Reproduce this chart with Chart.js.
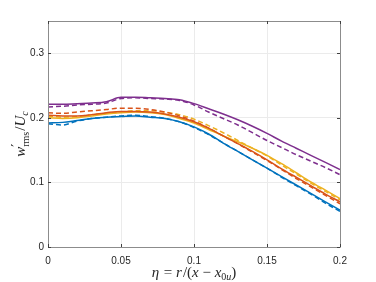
<!DOCTYPE html>
<html>
<head>
<meta charset="utf-8">
<script src="https://cdn.jsdelivr.net/npm/chart.js@4.4.0/dist/chart.umd.min.js"></script>
<style>
  html, body { margin: 0; padding: 0; background: #fff; }
  #wrap { width: 376px; height: 282px; }
</style>
</head>
<body>
<div id="wrap"><canvas id="myChart"></canvas></div>
<script>
// eta = r/(x - x0u)
const eta = [0, 0.01, 0.02, 0.03, 0.04, 0.05, 0.06, 0.07, 0.08, 0.09, 0.10,
  0.11, 0.12, 0.13, 0.14, 0.15, 0.16, 0.17, 0.18, 0.19, 0.20];

const blueSolid = [0.192, 0.193, 0.196, 0.199, 0.201, 0.202, 0.203, 0.201, 0.199, 0.194, 0.186,
  0.175, 0.161, 0.148, 0.135, 0.122, 0.109, 0.096, 0.083, 0.070, 0.057];
const blueDashed = [0.191, 0.189, 0.195, 0.199, 0.201, 0.203, 0.204, 0.202, 0.199, 0.194, 0.185,
  0.174, 0.161, 0.148, 0.135, 0.122, 0.108, 0.095, 0.082, 0.068, 0.055];
const orangeSolid = [0.204, 0.203, 0.203, 0.205, 0.208, 0.210, 0.210, 0.209, 0.206, 0.201, 0.194,
  0.184, 0.172, 0.160, 0.148, 0.135, 0.121, 0.108, 0.095, 0.082, 0.070];
const orangeDashed = [0.208, 0.207, 0.209, 0.211, 0.213, 0.215, 0.215, 0.213, 0.209, 0.203, 0.195,
  0.184, 0.172, 0.160, 0.147, 0.134, 0.120, 0.106, 0.093, 0.080, 0.067];
const yellowSolid = [0.200, 0.199, 0.200, 0.203, 0.206, 0.208, 0.209, 0.208, 0.205, 0.199, 0.192,
  0.182, 0.172, 0.163, 0.153, 0.142, 0.129, 0.115, 0.101, 0.088, 0.075];
const yellowDashed = [0.203, 0.201, 0.202, 0.205, 0.207, 0.209, 0.211, 0.211, 0.209, 0.205, 0.198,
  0.188, 0.177, 0.165, 0.153, 0.141, 0.127, 0.113, 0.099, 0.086, 0.073];
const purpleSolid = [0.221, 0.221, 0.222, 0.223, 0.225, 0.232, 0.232, 0.231, 0.230, 0.228, 0.222,
  0.214, 0.206, 0.197, 0.187, 0.176, 0.164, 0.153, 0.142, 0.131, 0.120];
const purpleDashed = [0.217, 0.218, 0.220, 0.221, 0.223, 0.230, 0.231, 0.230, 0.229, 0.227, 0.220,
  0.209, 0.199, 0.189, 0.177, 0.165, 0.154, 0.143, 0.133, 0.123, 0.112];

const xTicks = [0, 0.05, 0.1, 0.15, 0.2];
const yTicks = [0, 0.1, 0.2, 0.3];

const BLUE = '#0072BD', ORANGE = '#D95319', YELLOW = '#EDB120', PURPLE = '#7E2F8E';

function series(vals, color, dashed) {
  return {
    data: eta.map((e, i) => ({ x: e, y: vals[i] })),
    borderColor: color,
    backgroundColor: color,
    borderWidth: 1.5,
    borderDash: dashed ? [5, 3] : [],
    pointRadius: 0,
    cubicInterpolationMode: 'monotone',
    fill: false
  };
}

// MATLAB style box, inward ticks and LaTeX-ish axis labels
const boxPlugin = {
  id: 'box',
  afterDraw(chart) {
    const { ctx, chartArea: a, scales } = chart;
    ctx.save();
    ctx.strokeStyle = '#8c8c8c';
    ctx.lineWidth = 1;
    ctx.beginPath();
    ctx.rect(Math.round(a.left) + 0.5, Math.round(a.top) + 0.5,
      Math.round(a.right - a.left), Math.round(a.bottom - a.top));
    ctx.stroke();
    ctx.strokeStyle = '#404040';
    ctx.beginPath();
    xTicks.forEach(v => {
      const px = Math.round(scales.x.getPixelForValue(v)) + 0.5;
      ctx.moveTo(px, a.bottom); ctx.lineTo(px, a.bottom - 3);
      ctx.moveTo(px, a.top); ctx.lineTo(px, a.top + 3);
    });
    yTicks.forEach(v => {
      const py = Math.round(scales.y.getPixelForValue(v)) + 0.5;
      ctx.moveTo(a.left, py); ctx.lineTo(a.left + 3, py);
      ctx.moveTo(a.right, py); ctx.lineTo(a.right - 3, py);
    });
    ctx.stroke();

    ctx.fillStyle = '#262626';
    ctx.textBaseline = 'alphabetic';
    const it = 'italic 15px "Liberation Serif"';
    const up = '15px "Liberation Serif"';
    const itS = 'italic 10px "Liberation Serif"';
    const upS = '10px "Liberation Serif"';

    function drawRuns(runs, cx, cy) {
      let w = 0;
      runs.forEach(r => { ctx.font = r.f; w += ctx.measureText(r.t).width + (r.gap || 0); });
      let x = cx - w / 2;
      runs.forEach(r => {
        ctx.font = r.f;
        ctx.fillText(r.t, x, cy + (r.dy || 0));
        x += ctx.measureText(r.t).width + (r.gap || 0);
      });
    }

    // x label
    const cx = (a.left + a.right) / 2;
    drawRuns([
      { t: 'η', f: it, gap: 1 },
      { t: ' = ', f: up },
      { t: 'r', f: it, gap: 1 },
      { t: '/(', f: up },
      { t: 'x', f: it },
      { t: ' − ', f: up },
      { t: 'x', f: it },
      { t: '0', f: upS, dy: 3 },
      { t: 'u', f: itS, dy: 3 },
      { t: ')', f: up }
    ], cx, 277);

    // y label
    ctx.save();
    ctx.translate(25, (a.top + a.bottom) / 2);
    ctx.rotate(-Math.PI / 2);
    drawRuns([
      { t: 'w', f: it },
      { t: '′', f: '13px "DejaVu Serif"', dy: -4, gap: -3 },
      { t: 'rms', f: upS, dy: 4, gap: 1 },
      { t: '/', f: up },
      { t: 'U', f: it },
      { t: 'c', f: itS, dy: 3 }
    ], 0, 0);
    ctx.restore();
    ctx.restore();
  }
};

const ctx = document.getElementById('myChart').getContext('2d');
new Chart(ctx, {
  type: 'line',
  data: {
    datasets: [
      series(blueSolid, BLUE, false),
      series(orangeSolid, ORANGE, false),
      series(yellowSolid, YELLOW, false),
      series(purpleSolid, PURPLE, false),
      series(blueDashed, BLUE, true),
      series(orangeDashed, ORANGE, true),
      series(yellowDashed, YELLOW, true),
      series(purpleDashed, PURPLE, true)
    ]
  },
  options: {
    responsive: true,
    maintainAspectRatio: false,
    animation: false,
    layout: { padding: { top: 21, right: 36, left: 0, bottom: 0 } },
    plugins: { legend: { display: false }, tooltip: { enabled: false } },
    scales: {
      x: {
        type: 'linear',
        min: 0,
        max: 0.2,
        afterBuildTicks: s => { s.ticks = xTicks.map(v => ({ value: v })); },
        afterFit: s => { s.height = 35; },
        grid: { color: '#ebebeb', tickLength: 0, drawTicks: false },
        border: { display: false },
        ticks: {
          color: '#262626',
          padding: 8,
          maxRotation: 0,
          font: { family: '"Liberation Sans"', size: 10 },
          callback: v => String(Number(v.toFixed(2)))
        }
      },
      y: {
        type: 'linear',
        min: 0,
        max: 0.35,
        afterBuildTicks: s => { s.ticks = yTicks.map(v => ({ value: v })); },
        afterFit: s => { s.width = 48; },
        grid: { color: '#ebebeb', tickLength: 0, drawTicks: false },
        border: { display: false },
        ticks: {
          color: '#262626',
          padding: 4,
          font: { family: '"Liberation Sans"', size: 10 },
          callback: v => String(Number(v.toFixed(2)))
        }
      }
    }
  },
  plugins: [boxPlugin]
});
</script>
</body>
</html>
